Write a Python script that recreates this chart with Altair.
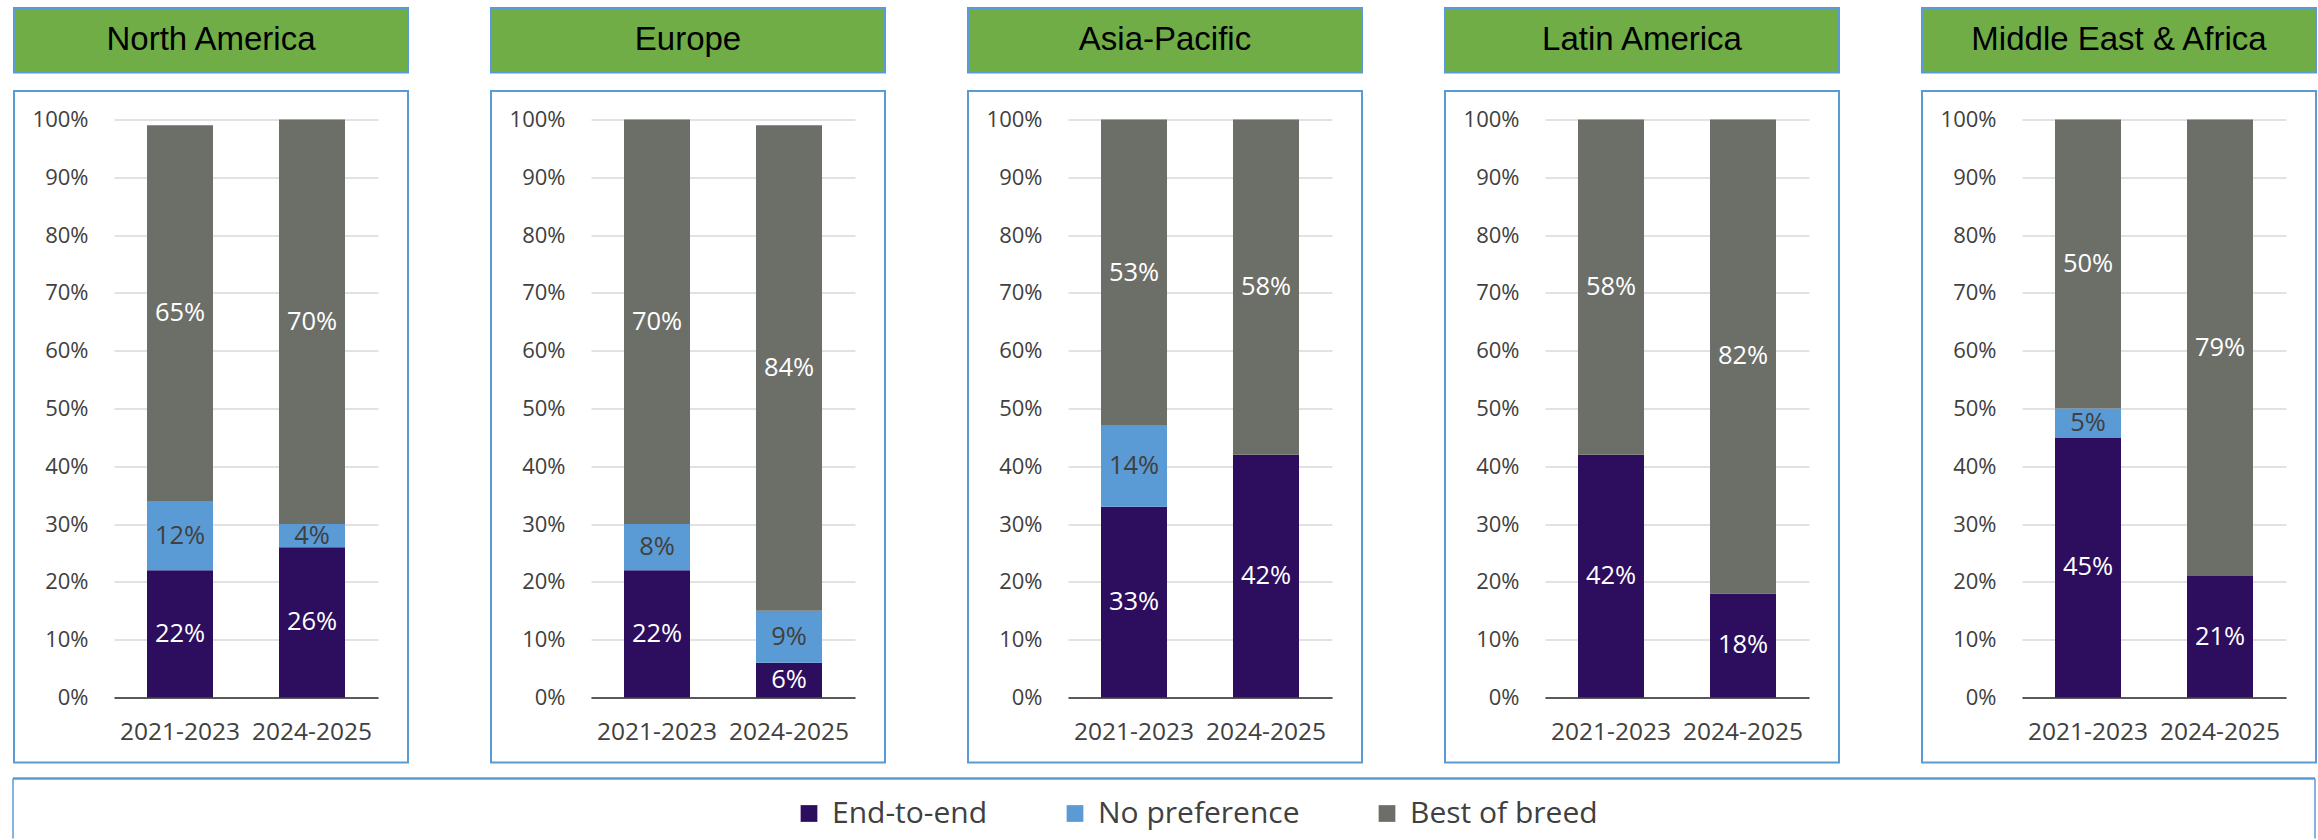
import altair as alt
import pandas as pd

# Survey shares (%) by region and period
regions = ["North America", "Europe", "Asia-Pacific", "Latin America", "Middle East & Africa"]
periods = ["2021-2023", "2024-2025"]
series = ["End-to-end", "No preference", "Best of breed"]

end_to_end = [[22, 26], [22, 6], [33, 42], [42, 18], [45, 21]]
no_preference = [[12, 4], [8, 9], [14, 0], [0, 0], [5, 0]]
best_of_breed = [[65, 70], [70, 84], [53, 58], [58, 82], [50, 79]]

colors = ["#2C0D5E", "#5B9BD5", "#6C6E68"]

rows = []
for r_i, region in enumerate(regions):
    for p_i, period in enumerate(periods):
        for s_i, (name, vals) in enumerate(zip(series, [end_to_end, no_preference, best_of_breed])):
            rows.append({"region": region, "period": period, "series": name,
                         "order": s_i, "value": vals[r_i][p_i]})
df = pd.DataFrame(rows)

PLOT_W, PLOT_H = 264, 578
FRAME_BLUE = "#5B9BD5"
INK = "#404040"

legend = alt.Legend(
    orient="none", legendX=680, legendY=679, direction="horizontal", title=None,
    symbolType="square", symbolSize=280, symbolStrokeWidth=0,
    labelFont="Open Sans", labelFontSize=30, labelColor=INK, labelOffset=8,
    labelLimit=0, columnPadding=72, padding=0,
)

x_enc = alt.X("period:N", sort=periods,
              scale=alt.Scale(paddingInner=0.5, paddingOuter=0.25),
              axis=alt.Axis(title=None, labelAngle=0, ticks=False, domain=True,
                            domainColor="#595959", domainWidth=2, grid=False,
                            labelFont="Open Sans", labelFontSize=24.5,
                            labelColor=INK, labelPadding=23))
y_axis = alt.Axis(values=list(range(0, 101, 10)), labelExpr="datum.value + '%'",
                  title=None, domain=False, ticks=False, grid=True,
                  gridColor="#D9D9D9", gridWidth=1.3,
                  labelFont="Open Sans", labelFontSize=22, labelColor=INK,
                  labelPadding=26)


def panel(idx, region):
    deco = alt.Chart(pd.DataFrame({"region": [region]}))
    frame = deco.mark_rect(fill="transparent", stroke=FRAME_BLUE, strokeWidth=2).encode(
        x=alt.value(-100), x2=alt.value(294), y=alt.value(-28.5), y2=alt.value(643))
    header = deco.mark_rect(fill="#70AD47", stroke=FRAME_BLUE, strokeWidth=2).encode(
        x=alt.value(-100), x2=alt.value(294), y=alt.value(-111.5), y2=alt.value(-47))
    header_text = deco.mark_text(font="Liberation Sans", fontSize=33, color="black",
                                 align="center", baseline="middle").encode(
        x=alt.value(97), y=alt.value(-80), text="region:N")

    base = alt.Chart(df).transform_filter(alt.datum.region == region)
    bars = base.mark_bar().encode(
        x=x_enc,
        y=alt.Y("value:Q", stack="zero", scale=alt.Scale(domain=[0, 100], nice=False),
                axis=y_axis),
        color=alt.Color("series:N", scale=alt.Scale(domain=series, range=colors),
                        legend=legend),
        order=alt.Order("order:Q", sort="ascending"),
    )
    labels = base.transform_stack(
        stack="value", groupby=["period"],
        sort=[alt.SortField("order", "ascending")], as_=["v0", "v1"],
    ).transform_filter(alt.datum.value > 0).transform_calculate(
        mid="(datum.v0 + datum.v1) / 2",
        label="datum.value + '%'",
        ink="datum.series == 'No preference' ? '#404040' : '#FFFFFF'",
    ).mark_text(font="Open Sans", fontSize=25.5, align="center", baseline="middle").encode(
        x=alt.X("period:N", sort=periods),
        y=alt.Y("mid:Q"),
        text="label:N",
        color=alt.Color("ink:N", scale=None),
    )

    layers = [frame, header, header_text, bars, labels]
    if idx == 0:
        # outline of the legend strip along the bottom
        box = alt.Chart(pd.DataFrame({"k": [0]}))
        top = box.mark_rule(color=FRAME_BLUE, strokeWidth=2.5).encode(
            x=alt.value(-101), x2=alt.value(2201), y=alt.value(659))
        left = box.mark_rule(color=FRAME_BLUE, strokeWidth=1.5).encode(
            x=alt.value(-101), y=alt.value(659), y2=alt.value(719))
        right = box.mark_rule(color=FRAME_BLUE, strokeWidth=1.5).encode(
            x=alt.value(2201), y=alt.value(659), y2=alt.value(719))
        layers = [top, left, right] + layers
    return alt.layer(*layers).properties(width=PLOT_W, height=PLOT_H)


chart = alt.hconcat(*[panel(i, r) for i, r in enumerate(regions)],
                    spacing=213, bounds="flush").properties(
    padding={"left": 11, "top": 6.5, "right": 0, "bottom": 0},
    background="white",
).configure_view(stroke=None)

chart.save("out.html", embed_options={"renderer": "svg", "actions": False})
